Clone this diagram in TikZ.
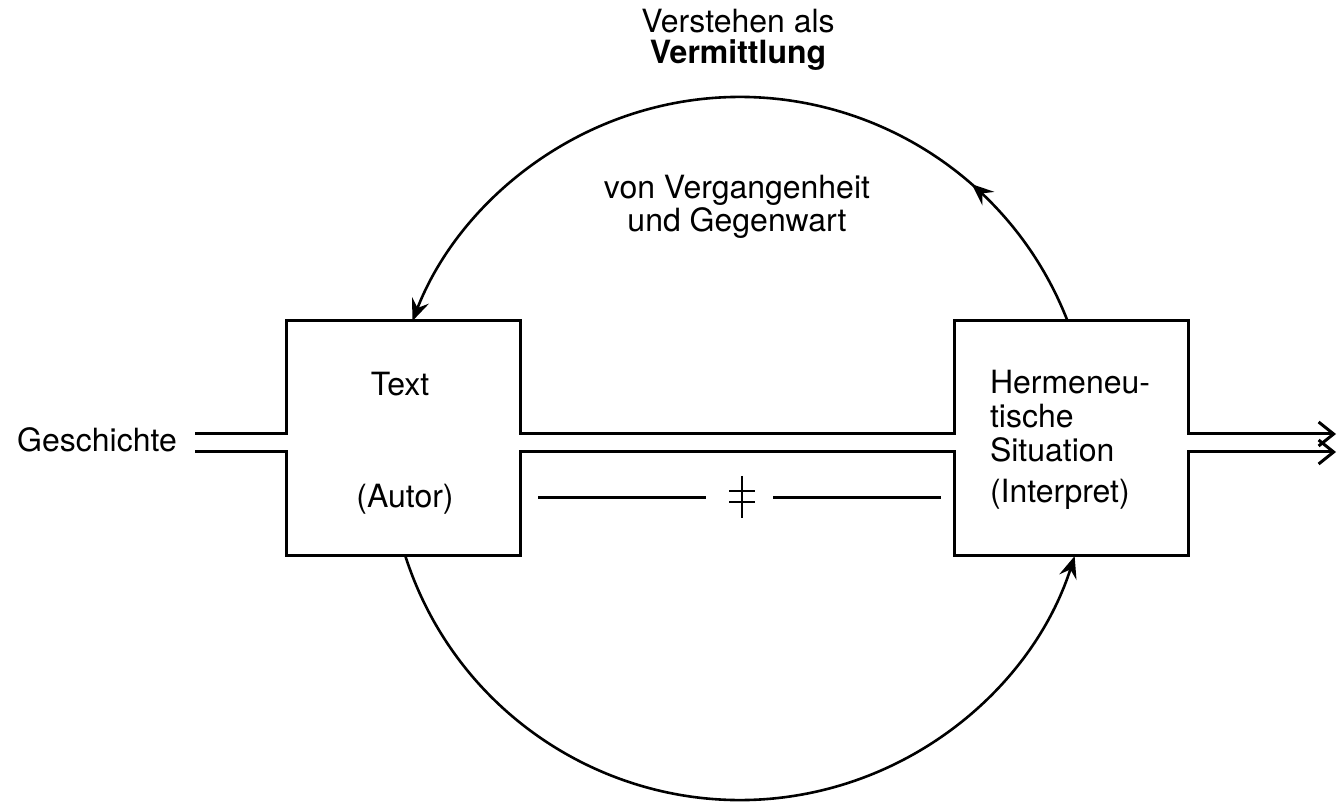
\documentclass[tikz,border=0pt]{standalone}
\usepackage{fontspec}
\setmainfont{TeX Gyre Heros}
\usetikzlibrary{arrows.meta,decorations.markings}
\tikzset{ringhead/.tip={Stealth[length=11pt,width=9pt,inset=4pt]},
  endbarb/.tip={Straight Barb[length=7.5pt,width=12pt]}}
\begin{document}
\begin{tikzpicture}[x=0.5pt,y=0.5pt,
  every node/.style={font=\fontsize{16}{18}\selectfont, inner sep=0pt, outer sep=0pt},
  boxnode/.style={rectangle, minimum width=117pt, minimum height=117.5pt},
  wall/.style={line width=1.5pt, line join=miter},
  ring/.style={line width=1.3pt},
  lbl/.style={anchor=base},
  lblw/.style={anchor=base west}]
\useasboundingbox (0,0) rectangle (1337,803);
% boxes (outlines drawn with the channels)
\node[boxnode] (L) at (403,364.5) {};
\node[boxnode] (R) at (1071,364.5) {};
% channel ends
\coordinate (gU) at (195,369);
\coordinate (gL) at (195,351);
\coordinate (eU) at (1336,369);
\coordinate (eL) at (1336,351);
% upper wall
\draw[wall,-endbarb] (gU) -- (gU -| L.west) -- (L.north west) -- (L.north east) -- (gU -| L.east)
  -- (gU -| R.west) -- (R.north west) -- (R.north east) -- (gU -| R.east) -- (eU);
% lower wall
\draw[wall,-endbarb] (gL) -- (gL -| L.west) -- (L.south west) -- (L.south east) -- (gL -| L.east)
  -- (gL -| R.west) -- (R.south west) -- (R.south east) -- (gL -| R.east) -- (eL);
% circle
\coordinate (C) at (740,354.5);
\draw[ring,-ringhead, postaction={decorate},
  decoration={markings, mark=at position 0.2 with {\arrow{ringhead}}}]
  ([shift={(21.27:175.75pt)}]C) arc[start angle=21.27, end angle=158.73, radius=175.75pt];
\draw[ring,-ringhead]
  ([shift={(197.83:175.75pt)}]C) arc[start angle=197.83, end angle=342.17, radius=175.75pt];
% not-equal line
\draw[wall] (538,305) -- (706,305);
\draw[wall] (773,305) -- (941,305);
\draw[line width=1.3pt] (742,327) -- (742,285);
\draw[line width=1.3pt] (729,312) -- (755,312);
\draw[line width=1.3pt] (729,301) -- (755,301);
% texts
\node[lbl] (t1) at (738,770) {Verstehen als};
\node[lbl] (t2) at (738,739) {\bfseries Vermittlung};
\node[lbl] (t3) at (737,604) {von Vergangenheit};
\node[lbl] (t4) at (737,571) {und Gegenwart};
\node[lbl] (ges) at (97,351) {Geschichte};
\node[lbl] (txt) at (400,407) {Text};
\node[lbl] (aut) at (405,295) {(Autor)};
\node[lblw] (h1) at (990,409) {Hermeneu-};
\node[lblw] (h2) at (990,375) {tische};
\node[lblw] (h3) at (990,341) {Situation};
\node[lblw] (h4) at (990,300) {(Interpret)};
\end{tikzpicture}
\end{document}
